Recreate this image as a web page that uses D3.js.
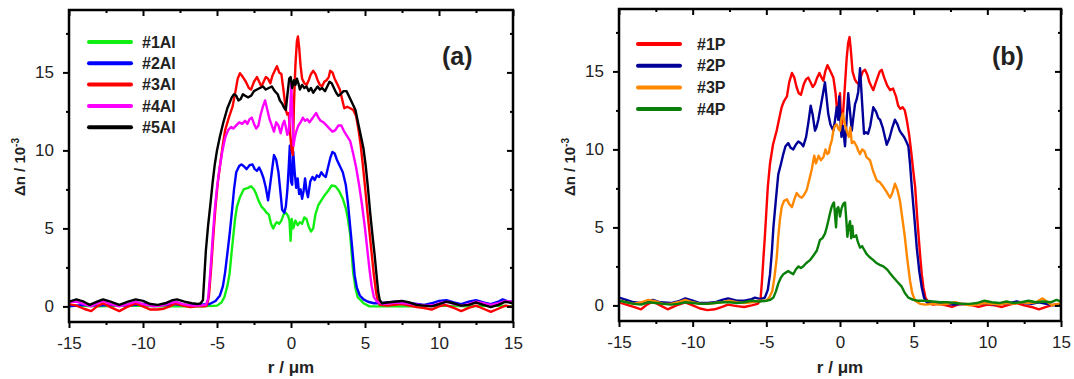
<!DOCTYPE html>
<html><head><meta charset="utf-8">
<script src="https://cdn.jsdelivr.net/npm/d3@7"></script>
<style>html,body{margin:0;padding:0;background:#fff}svg{display:block}</style>
</head><body><svg id="c" width="1074" height="379"></svg>
<script>
const xTicks=[-15,-10,-5,0,5,10,15];
const xMinor=[-12.5,-7.5,-2.5,2.5,7.5,12.5];
const yTicks=[0,5,10,15];
const yMinor=[2.5,7.5,12.5,17.5];
const namesA=["#1Al","#2Al","#3Al","#4Al","#5Al"];
const namesB=["#1P","#2P","#3P","#4P"];
const panelLabels=["(a)","(b)"];
const colorsA=["#11ee11","#0000ff","#ff0000","#ff00ff","#000000"];
const colorsB=["#ff0000","#000099","#ff8800","#0a800a"];

// panel (a) series: [r (µm), Δn (10^-3)]
const s1Al=[[-15,0.05],[-13,0.0],[-11,0.05],[-9,0.0],[-7,0.0],[-6,0.0],[-5.0,0.05],[-4.7,0.25],[-4.5,0.6],[-4.3,1.3],[-4.15,2.1],[-4.0,3.6],[-3.9,4.5],[-3.78,5.6],[-3.65,6.4],[-3.45,7.0],[-3.2,7.5],[-2.9,7.6],[-2.7,7.7],[-2.5,7.5],[-2.35,7.2],[-2.2,6.8],[-2.0,6.4],[-1.8,6.2],[-1.65,6.0],[-1.5,5.9],[-1.35,5.3],[-1.2,5.0],[-1.05,5.3],[-0.95,5.4],[-0.8,5.3],[-0.65,5.5],[-0.5,5.9],[-0.35,6.0],[-0.2,5.8],[-0.1,5.5],[-0.03,4.2],[0.05,5.6],[0.15,5.0],[0.3,5.5],[0.45,5.2],[0.6,5.4],[0.75,5.3],[0.9,5.7],[1.05,5.6],[1.2,5.1],[1.35,4.8],[1.5,5.0],[1.65,5.9],[1.85,6.5],[2.05,6.8],[2.25,7.1],[2.5,7.4],[2.75,7.75],[3.0,7.7],[3.25,7.4],[3.5,6.9],[3.7,6.3],[3.85,5.6],[4.0,4.6],[4.1,3.4],[4.2,2.2],[4.35,1.2],[4.5,0.6],[4.66,0.45],[4.9,0.2],[5.3,0.0],[6,0.0],[8,0.0],[10,0.05],[12,0.0],[14,0.05],[15,0.0]];
const s2Al=[[-15,0.0],[-14,0.1],[-13,0.05],[-12,0.1],[-11,0.05],[-10,0.15],[-9,0.05],[-8,0.15],[-7,0.05],[-6.3,0.1],[-5.5,0.15],[-5.1,0.35],[-4.8,0.7],[-4.6,1.3],[-4.45,2.2],[-4.3,3.4],[-4.15,4.6],[-4.0,6.0],[-3.85,7.5],[-3.7,8.6],[-3.5,9.0],[-3.35,9.1],[-3.2,9.0],[-3.0,8.8],[-2.8,9.05],[-2.6,9.1],[-2.45,8.8],[-2.3,8.7],[-2.15,8.9],[-2.0,8.6],[-1.85,8.2],[-1.7,7.6],[-1.55,6.8],[-1.45,7.5],[-1.3,8.6],[-1.15,9.7],[-1.0,9.4],[-0.85,8.6],[-0.7,7.2],[-0.6,6.2],[-0.45,6.0],[-0.35,6.4],[-0.25,7.4],[-0.15,9.0],[-0.08,10.3],[0.0,8.0],[0.08,7.8],[0.15,9.9],[0.25,8.6],[0.35,7.6],[0.45,8.2],[0.55,7.2],[0.65,7.5],[0.75,6.9],[0.85,7.4],[0.95,8.2],[1.05,7.4],[1.15,7.0],[1.3,8.0],[1.45,8.3],[1.6,8.1],[1.75,8.4],[1.9,8.3],[2.05,8.6],[2.2,8.4],[2.35,8.3],[2.5,8.9],[2.65,9.5],[2.8,9.9],[2.95,9.8],[3.1,9.4],[3.3,9.0],[3.5,8.6],[3.7,7.8],[3.85,6.6],[4.0,5.1],[4.15,3.6],[4.3,2.0],[4.45,1.2],[4.65,0.7],[4.9,0.45],[5.2,0.3],[5.6,0.2],[6.0,0.2],[6.5,0.25],[7.0,0.3],[7.5,0.3],[8.0,0.2],[8.5,0.15],[9.0,0.1],[9.5,0.2],[10.0,0.35],[10.5,0.4],[11.0,0.25],[11.5,0.15],[12.0,0.3],[12.5,0.4],[13.0,0.25],[13.5,0.15],[14.0,0.3],[14.3,0.45],[14.7,0.3],[15,0.3]];
const s3Al=[[-15,0.15],[-14.5,0.05],[-14,-0.15],[-13.5,-0.3],[-13.1,0.0],[-12.7,0.2],[-12.2,-0.05],[-11.6,-0.3],[-11.1,-0.05],[-10.5,0.2],[-10.0,0.0],[-9.5,-0.2],[-9.0,-0.2],[-8.6,-0.15],[-8.2,0.0],[-7.8,0.2],[-7.3,0.05],[-6.8,-0.05],[-6.4,0.0],[-5.85,0.0],[-5.7,0.05],[-5.55,0.6],[-5.4,2.4],[-5.25,4.5],[-5.1,6.4],[-4.95,7.9],[-4.8,9.0],[-4.6,10.4],[-4.45,11.3],[-4.2,12.1],[-3.95,12.8],[-3.75,13.8],[-3.6,14.6],[-3.45,14.95],[-3.25,14.7],[-3.05,14.4],[-2.85,14.0],[-2.7,13.9],[-2.5,14.4],[-2.3,14.7],[-2.15,14.4],[-2.0,14.1],[-1.85,14.4],[-1.7,14.7],[-1.55,14.6],[-1.4,14.3],[-1.25,14.8],[-1.1,15.1],[-0.95,15.4],[-0.8,15.0],[-0.65,14.9],[-0.5,13.8],[-0.35,12.6],[-0.25,12.3],[-0.15,12.4],[-0.05,11.0],[0.05,10.0],[0.12,9.7],[0.2,13.0],[0.3,15.5],[0.4,17.0],[0.47,17.3],[0.55,16.6],[0.65,15.4],[0.75,14.6],[0.9,14.3],[1.05,14.2],[1.2,14.5],[1.35,14.9],[1.5,15.1],[1.65,14.9],[1.8,14.5],[1.95,14.2],[2.1,14.1],[2.25,14.4],[2.4,14.5],[2.55,14.7],[2.65,15.1],[2.8,15.0],[2.95,14.6],[3.1,14.3],[3.3,13.9],[3.45,13.3],[3.6,12.7],[3.8,12.8],[4.0,12.7],[4.2,12.6],[4.4,12.2],[4.55,11.4],[4.7,10.4],[4.85,9.1],[5.0,7.7],[5.15,6.2],[5.3,4.8],[5.45,3.4],[5.6,2.0],[5.75,0.9],[5.85,0.4],[6.0,0.1],[6.5,0.05],[7.0,0.1],[7.5,0.15],[8.0,0.05],[8.5,-0.05],[9.0,-0.1],[9.5,-0.2],[10.0,0.0],[10.4,0.1],[11.0,-0.1],[11.5,-0.3],[12.0,-0.1],[12.5,0.05],[13.0,-0.15],[13.5,-0.35],[14.0,-0.15],[14.5,0.05],[15,-0.05]];
const s4Al=[[-15,0.3],[-14.5,0.3],[-14.0,0.15],[-13.5,0.0],[-13.1,0.2],[-12.7,0.35],[-12.2,0.15],[-11.6,0.0],[-11.0,0.15],[-10.5,0.3],[-10.0,0.15],[-9.3,0.0],[-8.7,0.05],[-8.2,0.2],[-7.8,0.3],[-7.3,0.15],[-6.7,0.05],[-6.2,0.05],[-5.75,0.1],[-5.6,0.5],[-5.45,2.2],[-5.3,4.3],[-5.15,6.2],[-5.0,7.6],[-4.85,8.7],[-4.65,9.9],[-4.45,10.8],[-4.25,11.3],[-4.05,11.5],[-3.9,11.4],[-3.7,11.6],[-3.5,11.8],[-3.3,11.7],[-3.1,11.9],[-2.95,11.7],[-2.8,12.0],[-2.65,12.1],[-2.5,11.7],[-2.35,11.4],[-2.2,11.6],[-2.05,12.3],[-1.9,12.8],[-1.75,13.2],[-1.6,12.6],[-1.45,12.0],[-1.3,11.6],[-1.15,11.2],[-1.0,11.8],[-0.85,11.6],[-0.7,11.1],[-0.55,11.7],[-0.45,11.9],[-0.35,11.5],[-0.25,11.0],[-0.15,11.3],[-0.05,12.5],[0.02,14.3],[0.1,12.0],[0.17,10.3],[0.25,10.8],[0.35,11.2],[0.5,11.6],[0.65,11.8],[0.8,12.1],[0.95,11.9],[1.1,12.0],[1.25,11.8],[1.4,12.0],[1.55,12.2],[1.7,12.4],[1.85,12.1],[2.0,11.9],[2.2,11.8],[2.4,11.6],[2.6,11.4],[2.8,11.2],[3.0,11.3],[3.2,11.6],[3.4,11.6],[3.6,11.2],[3.8,10.9],[4.0,10.6],[4.2,9.8],[4.4,8.9],[4.6,7.8],[4.8,6.5],[5.0,5.0],[5.15,3.7],[5.3,2.4],[5.45,1.3],[5.6,0.6],[5.8,0.3],[6.2,0.15],[6.7,0.2],[7.2,0.25],[7.7,0.2],[8.2,0.15],[8.7,0.1],[9.2,0.05],[9.7,0.1],[10.2,0.25],[10.6,0.3],[11.0,0.15],[11.5,0.05],[12.0,0.15],[12.5,0.3],[13.0,0.2],[13.5,0.1],[14.0,0.2],[14.5,0.35],[15,0.3]];
const s5Al=[[-15,0.3],[-14.5,0.45],[-14.0,0.3],[-13.6,0.1],[-13.1,0.3],[-12.7,0.45],[-12.2,0.3],[-11.6,0.1],[-11.0,0.3],[-10.5,0.45],[-10.0,0.35],[-9.5,0.15],[-9.0,0.1],[-8.5,0.2],[-8.0,0.4],[-7.7,0.45],[-7.2,0.3],[-6.7,0.2],[-6.3,0.15],[-6.1,0.2],[-5.95,0.4],[-5.85,2.0],[-5.75,3.6],[-5.6,5.2],[-5.45,6.5],[-5.3,7.9],[-5.15,9.1],[-5.0,10.0],[-4.8,10.9],[-4.57,11.8],[-4.3,12.7],[-4.0,13.4],[-3.85,13.6],[-3.7,13.5],[-3.55,13.2],[-3.4,13.3],[-3.25,13.6],[-3.1,13.5],[-2.9,13.4],[-2.7,13.5],[-2.5,13.8],[-2.3,13.9],[-2.1,14.0],[-1.9,14.1],[-1.7,13.9],[-1.5,14.0],[-1.3,14.1],[-1.1,13.8],[-0.9,13.6],[-0.75,13.2],[-0.6,13.0],[-0.45,12.7],[-0.35,12.6],[-0.25,13.5],[-0.12,14.6],[-0.02,14.7],[0.08,14.0],[0.2,14.5],[0.3,14.2],[0.4,14.6],[0.5,14.3],[0.6,13.9],[0.75,14.2],[0.9,14.0],[1.05,14.1],[1.2,13.8],[1.35,14.0],[1.5,13.7],[1.65,13.9],[1.8,14.1],[1.95,13.9],[2.1,14.0],[2.3,13.8],[2.45,14.1],[2.6,14.4],[2.75,14.3],[2.9,14.0],[3.05,13.7],[3.2,13.5],[3.35,13.6],[3.55,13.8],[3.75,13.8],[3.95,13.4],[4.15,13.0],[4.35,12.6],[4.55,11.7],[4.75,10.8],[4.9,10.1],[5.05,9.0],[5.2,7.6],[5.35,6.0],[5.5,4.6],[5.65,3.3],[5.8,1.8],[5.9,0.9],[6.0,0.4],[6.15,0.2],[6.5,0.25],[7.0,0.3],[7.5,0.35],[8.0,0.25],[8.5,0.1],[9.0,0.05],[9.5,0.0],[10.0,0.15],[10.5,0.3],[11.0,0.2],[11.5,0.05],[12.0,0.1],[12.5,0.25],[13.0,0.1],[13.5,-0.05],[14.0,0.1],[14.5,0.3],[15,0.2]];

// panel (b) series
const s1P=[[-15,0.2],[-14.5,0.05],[-14.0,-0.1],[-13.5,-0.25],[-13.1,0.05],[-12.7,0.25],[-12.2,0.0],[-11.7,-0.25],[-11.1,0.0],[-10.5,0.2],[-10.0,0.0],[-9.5,-0.2],[-9.0,-0.3],[-8.5,-0.25],[-8.0,-0.1],[-7.6,0.05],[-7.0,-0.05],[-6.5,-0.1],[-6.0,0.0],[-5.6,0.1],[-5.4,0.3],[-5.3,1.5],[-5.2,3.0],[-5.1,4.4],[-5.0,6.0],[-4.9,7.6],[-4.75,9.1],[-4.55,10.3],[-4.3,11.2],[-4.1,12.1],[-3.96,12.7],[-3.8,13.1],[-3.6,13.4],[-3.45,14.3],[-3.26,14.9],[-3.1,14.6],[-2.95,14.0],[-2.8,13.6],[-2.65,13.5],[-2.45,14.2],[-2.3,14.5],[-2.15,14.6],[-2.0,14.3],[-1.85,14.0],[-1.7,14.2],[-1.55,14.6],[-1.4,14.9],[-1.25,14.6],[-1.13,14.4],[-1.0,15.0],[-0.85,15.4],[-0.7,15.1],[-0.55,14.8],[-0.45,14.6],[-0.3,13.6],[-0.2,12.5],[-0.1,12.8],[0.0,13.6],[0.1,11.4],[0.2,12.2],[0.33,14.0],[0.45,15.8],[0.55,16.8],[0.65,17.2],[0.75,16.2],[0.85,15.0],[1.0,14.5],[1.13,14.3],[1.25,14.2],[1.4,14.6],[1.55,15.0],[1.7,15.1],[1.85,14.8],[2.0,14.3],[2.15,14.0],[2.26,13.8],[2.4,14.2],[2.55,14.6],[2.7,15.0],[2.83,15.1],[3.0,14.6],[3.2,14.1],[3.4,13.8],[3.6,13.9],[3.8,13.4],[3.95,12.8],[4.1,12.6],[4.25,12.7],[4.4,12.5],[4.55,11.8],[4.7,10.9],[4.85,9.7],[5.0,8.4],[5.1,7.6],[5.25,5.5],[5.43,3.3],[5.55,2.0],[5.66,1.15],[5.8,0.5],[6.0,0.2],[6.3,0.05],[6.7,0.1],[7.2,0.0],[7.6,-0.1],[8.0,0.05],[8.5,0.1],[9.0,0.0],[9.4,-0.1],[10.0,0.05],[10.5,0.0],[11.0,-0.1],[11.5,0.05],[12.0,0.15],[12.5,0.0],[13.0,-0.1],[13.5,-0.25],[14.0,-0.1],[14.5,0.05],[15,0.1]];
const s2P=[[-15,0.5],[-14.5,0.35],[-14.0,0.2],[-13.5,0.15],[-13.0,0.3],[-12.7,0.35],[-12.2,0.2],[-11.5,0.15],[-11.0,0.25],[-10.5,0.45],[-10.0,0.3],[-9.5,0.15],[-9.0,0.15],[-8.5,0.2],[-8.0,0.35],[-7.6,0.45],[-7.0,0.3],[-6.5,0.3],[-6.0,0.4],[-5.77,0.5],[-5.4,0.4],[-5.1,0.5],[-4.9,1.0],[-4.75,2.0],[-4.62,3.5],[-4.52,5.0],[-4.35,6.8],[-4.19,8.4],[-4.0,9.1],[-3.85,9.7],[-3.7,10.2],[-3.51,10.4],[-3.35,10.1],[-3.17,10.0],[-3.0,10.3],[-2.83,10.5],[-2.65,10.4],[-2.49,10.2],[-2.3,10.8],[-2.15,11.7],[-1.99,12.8],[-1.85,12.2],[-1.7,11.2],[-1.6,11.4],[-1.47,11.9],[-1.3,12.8],[-1.15,13.6],[-1.02,14.3],[-0.9,13.2],[-0.8,12.3],[-0.65,11.6],[-0.45,11.2],[-0.35,11.8],[-0.22,12.7],[-0.12,11.9],[-0.05,13.4],[0.02,12.0],[0.1,10.8],[0.2,11.5],[0.34,10.2],[0.45,11.9],[0.56,13.6],[0.68,12.4],[0.8,11.2],[0.9,12.0],[1.02,12.9],[1.13,13.2],[1.24,13.7],[1.36,15.2],[1.5,13.0],[1.63,11.0],[1.75,11.1],[1.9,11.0],[2.05,11.5],[2.26,12.7],[2.45,12.4],[2.6,12.0],[2.72,11.9],[2.9,11.4],[3.05,10.8],[3.17,10.3],[3.35,10.7],[3.55,11.4],[3.73,11.9],[3.9,11.6],[4.05,11.2],[4.19,11.0],[4.35,10.8],[4.5,10.5],[4.64,10.2],[4.75,9.1],[4.87,7.6],[5.05,5.6],[5.21,3.7],[5.38,2.2],[5.55,1.15],[5.7,0.5],[5.89,0.2],[6.2,0.1],[6.7,0.15],[7.2,0.1],[7.7,0.05],[8.3,0.1],[9.0,0.05],[9.5,0.1],[10.0,0.15],[10.5,0.05],[11.0,0.1],[11.5,0.15],[12.0,0.25],[12.5,0.15],[13.0,0.1],[13.5,0.2],[14.0,0.1],[14.5,0.0],[15,0.05]];
const s3P=[[-15,0.3],[-14.5,0.2],[-14.0,0.1],[-13.5,0.2],[-13.0,0.35],[-12.5,0.25],[-12.0,0.1],[-11.5,0.1],[-11.0,0.2],[-10.5,0.35],[-10.0,0.2],[-9.5,0.1],[-9.0,0.1],[-8.5,0.15],[-8.0,0.2],[-7.5,0.3],[-7.0,0.2],[-6.5,0.15],[-6.0,0.2],[-5.5,0.3],[-5.0,0.3],[-4.8,0.5],[-4.6,0.9],[-4.45,1.8],[-4.3,3.0],[-4.19,4.4],[-4.08,5.5],[-3.96,6.3],[-3.8,6.7],[-3.6,6.8],[-3.45,6.5],[-3.26,6.3],[-3.1,6.8],[-2.94,7.2],[-2.77,7.0],[-2.6,6.9],[-2.43,7.1],[-2.26,7.4],[-2.1,8.0],[-1.92,8.7],[-1.75,9.6],[-1.63,9.1],[-1.45,9.6],[-1.3,9.3],[-1.13,9.5],[-0.98,10.0],[-0.86,9.7],[-0.75,9.8],[-0.68,10.2],[-0.55,10.6],[-0.45,11.2],[-0.35,11.5],[-0.22,11.6],[-0.1,11.3],[0.0,11.2],[0.1,12.0],[0.2,12.3],[0.33,11.6],[0.45,11.2],[0.6,10.8],[0.7,11.4],[0.8,10.4],[0.95,10.5],[1.13,10.2],[1.25,9.9],[1.36,9.7],[1.5,10.0],[1.65,9.9],[1.8,9.5],[2.04,9.3],[2.25,8.6],[2.5,8.0],[2.7,7.9],[2.94,7.6],[3.15,7.3],[3.4,6.9],[3.55,7.2],[3.73,7.8],[3.9,7.4],[4.07,6.7],[4.2,5.8],[4.4,4.4],[4.55,3.1],[4.75,1.6],[4.9,0.8],[5.1,0.3],[5.43,0.1],[5.8,0.05],[6.3,0.1],[6.8,0.05],[7.3,0.1],[7.8,0.2],[8.3,0.1],[8.8,0.0],[9.3,0.05],[9.8,0.15],[10.3,0.1],[10.8,0.05],[11.3,0.15],[11.8,0.1],[12.3,0.2],[12.8,0.15],[13.3,0.2],[13.75,0.45],[14.1,0.2],[14.4,0.0],[14.8,0.1],[15,0.15]];
const s4P=[[-15,0.3],[-14.5,0.2],[-14.0,0.1],[-13.5,0.05],[-13.0,0.2],[-12.5,0.15],[-12.0,0.1],[-11.5,0.05],[-11.0,0.1],[-10.5,0.2],[-10.0,0.15],[-9.5,0.1],[-9.0,0.1],[-8.5,0.15],[-8.0,0.2],[-7.5,0.2],[-7.0,0.15],[-6.5,0.2],[-6.0,0.3],[-5.5,0.25],[-5.0,0.3],[-4.75,0.35],[-4.52,0.5],[-4.35,0.9],[-4.19,1.4],[-4.0,1.8],[-3.85,2.0],[-3.68,2.1],[-3.51,2.2],[-3.35,2.1],[-3.17,2.0],[-3.0,2.3],[-2.83,2.5],[-2.65,2.4],[-2.5,2.5],[-2.3,2.7],[-2.04,2.9],[-1.8,3.2],[-1.58,3.5],[-1.45,3.9],[-1.36,4.2],[-1.2,4.3],[-1.02,4.6],[-0.9,5.0],[-0.8,5.4],[-0.68,5.9],[-0.57,6.3],[-0.48,6.5],[-0.41,6.6],[-0.34,5.8],[-0.27,5.0],[-0.2,6.2],[-0.12,6.3],[-0.05,6.0],[0.0,5.7],[0.1,6.2],[0.22,6.5],[0.34,6.6],[0.42,5.6],[0.5,4.4],[0.58,5.0],[0.68,5.4],[0.76,4.3],[0.84,5.1],[0.9,4.4],[1.0,4.4],[1.1,4.5],[1.2,4.1],[1.36,3.7],[1.5,3.8],[1.62,3.6],[1.8,3.3],[2.0,3.1],[2.26,2.9],[2.5,2.7],[2.7,2.6],[2.94,2.5],[3.2,2.3],[3.45,2.0],[3.62,1.8],[3.9,1.5],[4.19,1.2],[4.4,0.8],[4.64,0.5],[4.98,0.35],[5.3,0.3],[5.8,0.3],[6.3,0.25],[6.8,0.2],[7.3,0.2],[7.8,0.15],[8.3,0.1],[8.8,0.1],[9.3,0.15],[9.8,0.3],[10.3,0.2],[10.8,0.15],[11.3,0.25],[11.8,0.15],[12.3,0.2],[12.8,0.3],[13.3,0.2],[13.8,0.25],[14.3,0.2],[14.7,0.35],[15,0.25]];

const seriesA=[s1Al,s2Al,s3Al,s4Al,s5Al];
const seriesB=[s1P,s2P,s3P,s4P];

const svg=d3.select("#c");
const FONT="'Liberation Sans', Arial, sans-serif";
const TXT="#222";

function panel(o){
  const x=d3.scaleLinear().domain([-15,15]).range([o.left,o.right]);
  const y=d3.scaleLinear().domain([-1,19]).range([o.bottom,o.top]);
  const g=svg.append("g");
  const cid="clip"+o.id;
  svg.append("clipPath").attr("id",cid).append("rect")
    .attr("x",o.left).attr("y",o.top).attr("width",o.right-o.left).attr("height",o.bottom-o.top);
  const line=d3.line().x(d=>x(d[0])).y(d=>y(d[1]));
  const lg=g.append("g").attr("clip-path",`url(#${cid})`);
  o.series.forEach((s,i)=>{
    lg.append("path").datum(s).attr("d",line).attr("fill","none")
      .attr("stroke",o.colors[i]).attr("stroke-width",2.4).attr("stroke-linejoin","round");
  });
  function ax(gen,tr,vals,size,labels){
    const a=g.append("g").attr("transform",tr)
      .call(gen.tickValues(vals).tickSize(size).tickPadding(labels?o.pad:0).tickFormat(labels?(d=>String(d)):""));
    a.select(".domain").remove();
    a.selectAll("line").attr("stroke","#000").attr("stroke-width",2);
    a.selectAll("text").attr("font-family",FONT).attr("font-size",17).attr("fill",TXT);
    return a;
  }
  ax(d3.axisBottom(x),`translate(0,${o.bottom})`,xTicks,6,true);
  ax(d3.axisBottom(x),`translate(0,${o.bottom})`,xMinor,3,false);
  ax(d3.axisTop(x),`translate(0,${o.top})`,xTicks,-6,false);
  ax(d3.axisTop(x),`translate(0,${o.top})`,xMinor,-3,false);
  ax(d3.axisLeft(y),`translate(${o.left},0)`,yTicks,6,true);
  ax(d3.axisLeft(y),`translate(${o.left},0)`,yMinor,3,false);
  ax(d3.axisRight(y),`translate(${o.right},0)`,yTicks,-6,false);
  ax(d3.axisRight(y),`translate(${o.right},0)`,yMinor,-3,false);
  g.append("rect").attr("x",o.left).attr("y",o.top).attr("width",o.right-o.left).attr("height",o.bottom-o.top)
    .attr("fill","none").attr("stroke","#000").attr("stroke-width",2.5);
  g.append("text").attr("x",(o.left+o.right)/2).attr("y",373).attr("text-anchor","middle")
    .attr("font-family",FONT).attr("font-size",17).attr("font-weight","bold").attr("fill",TXT).text("r / μm");
  const yt=g.append("text").attr("transform",`translate(${o.left-44},167) rotate(-90)`).attr("text-anchor","middle")
    .attr("font-family",FONT).attr("font-size",15).attr("font-weight","bold").attr("fill",TXT);
  yt.append("tspan").text("Δn / 10");
  yt.append("tspan").attr("font-size",10).attr("dy",-6).text("-3");
  o.names.forEach((n,i)=>{
    const yy=o.legY+i*o.legDy;
    g.append("line").attr("x1",o.legX).attr("x2",o.legX+42).attr("y1",yy).attr("y2",yy)
      .attr("stroke",o.colors[i]).attr("stroke-width",4).attr("stroke-linecap","round");
    g.append("text").attr("x",o.legTX).attr("y",yy).attr("dy","0.36em")
      .attr("font-family",FONT).attr("font-size",16).attr("font-weight","bold").attr("fill",TXT).text(n);
  });
  g.append("text").attr("x",o.labX).attr("y",o.labY).attr("font-family",FONT).attr("font-size",25)
    .attr("font-weight","bold").attr("fill",TXT).text(o.label);
}

panel({id:"a",left:69,right:513,top:10,bottom:322,pad:9,series:seriesA,colors:colorsA,names:namesA,
  legX:89,legY:42,legDy:21.3,legTX:142,label:panelLabels[0],labX:442,labY:65});
panel({id:"b",left:619,right:1061,top:9,bottom:321,pad:9,series:seriesB,colors:colorsB,names:namesB,
  legX:638,legY:44,legDy:21.7,legTX:697,label:panelLabels[1],labX:992,labY:65});
</script></body></html>
